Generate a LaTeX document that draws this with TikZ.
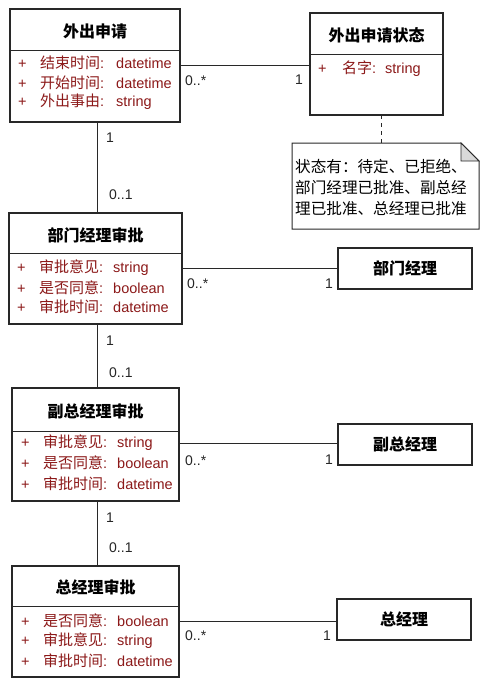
\documentclass[tikz,border=0pt]{standalone}
\usepackage{fontspec}
\setmainfont{Liberation Sans}
\newfontfamily\cjk{Noto Sans CJK SC}
\definecolor{attrred}{RGB}{140,25,25}
\definecolor{edge}{RGB}{40,40,40}
\tikzset{
  cls/.style={draw=edge, line width=1.2pt, fill=white, anchor=north west, inner sep=0pt, outer sep=0pt},
  ttl/.style={font=\cjk\bfseries\fontsize{16}{19}\selectfont, inner sep=0pt},
  attr/.style={font=\fontsize{14.5}{17}\selectfont, text=attrred, anchor=west, inner sep=0pt},
  mult/.style={font=\fontsize{14}{17}\selectfont, text=black!85, inner sep=0pt},
  assoc/.style={draw=edge, line width=0.8pt},
  sep/.style={draw=edge, line width=0.9pt},
}
\newcommand\zh[1]{{\cjk\fontsize{15}{17}\selectfont #1}}
\newcommand\attrline[3]{\makebox[22pt][l]{+}\makebox[#1][l]{\zh{#2}:}#3}
\begin{document}
\begin{tikzpicture}[x=1pt,y=-1pt]
\useasboundingbox[fill=white] (0,0) rectangle (493,685);

% ---------- 外出申请 ----------
\node[cls, minimum width=170pt, minimum height=113pt] (wc) at (10,9) {};
\draw[sep] (wc.west |- 0,50) -- (wc.east |- 0,50);
\node[ttl] (wct) at (95,31) {外出申请};
\node[attr] (wc1) at (18,63) {\attrline{76pt}{结束时间}{datetime}};
\node[attr] (wc2) at (18,83) {\attrline{76pt}{开始时间}{datetime}};
\node[attr] (wc3) at (18,102) {\attrline{76pt}{外出事由}{string}};

% ---------- 外出申请状态 ----------
\node[cls, minimum width=133pt, minimum height=102pt] (st) at (310,13) {};
\draw[sep] (st.west |- 0,54) -- (st.east |- 0,54);
\node[ttl] (stt) at (376.5,35) {外出申请状态};
\node[attr] (st1) at (318,69) {\makebox[24pt][l]{+}\makebox[43pt][l]{\zh{名字}:}string};

% ---------- note ----------
\node[inner sep=0pt, outer sep=0pt, minimum width=187pt, minimum height=86pt, anchor=north west] (note) at (292,143) {};
\draw[edge, line width=1pt, fill=white]
  (note.north west) -- ([xshift=-18pt]note.north east) -- ([yshift=-18pt]note.north east)
  -- (note.south east) -- (note.south west) -- cycle;
\draw[edge, line width=0.8pt, fill=black!15]
  ([xshift=-18pt]note.north east) -- ([xshift=-18pt,yshift=-18pt]note.north east) -- ([yshift=-18pt]note.north east) -- cycle;
\node[anchor=north west, inner sep=0pt, align=left, font=\cjk\fontsize{15.6}{21}\selectfont] (notet) at (295,159)
  {状态有：待定、已拒绝、\\部门经理已批准、副总经\\理已批准、总经理已批准};
\draw[edge, line width=0.9pt, dash pattern=on 4pt off 4pt] (381,0 |- st.south) -- (381,0 |- note.north);

% ---------- 部门经理审批 ----------
\node[cls, minimum width=173pt, minimum height=111pt] (bm) at (9,213) {};
\draw[sep] (bm.west |- 0,253) -- (bm.east |- 0,253);
\node[ttl] (bmt) at (95.5,235) {部门经理审批};
\node[attr] (bm1) at (17,268) {\attrline{74pt}{审批意见}{string}};
\node[attr] (bm2) at (17,288) {\attrline{74pt}{是否同意}{boolean}};
\node[attr] (bm3) at (17,307) {\attrline{74pt}{审批时间}{datetime}};

\node[cls, minimum width=134pt, minimum height=41pt] (bmj) at (338,248) {};
\node[ttl] (bmjt) at (bmj.center) {部门经理};

% ---------- 副总经理审批 ----------
\node[cls, minimum width=167pt, minimum height=113pt] (fz) at (12,388) {};
\draw[sep] (fz.west |- 0,431) -- (fz.east |- 0,431);
\node[ttl] (fzt) at (95.5,411) {副总经理审批};
\node[attr] (fz1) at (21,443) {\attrline{74pt}{审批意见}{string}};
\node[attr] (fz2) at (21,463) {\attrline{74pt}{是否同意}{boolean}};
\node[attr] (fz3) at (21,484) {\attrline{74pt}{审批时间}{datetime}};

\node[cls, minimum width=134pt, minimum height=41pt] (fzj) at (338,424) {};
\node[ttl] (fzjt) at (fzj.center) {副总经理};

% ---------- 总经理审批 ----------
\node[cls, minimum width=167pt, minimum height=111pt] (zj) at (12,566) {};
\draw[sep] (zj.west |- 0,606) -- (zj.east |- 0,606);
\node[ttl] (zjt) at (95.5,587) {总经理审批};
\node[attr] (zj1) at (21,621) {\attrline{74pt}{是否同意}{boolean}};
\node[attr] (zj2) at (21,641) {\attrline{74pt}{审批意见}{string}};
\node[attr] (zj3) at (21,661) {\attrline{74pt}{审批时间}{datetime}};

\node[cls, minimum width=134pt, minimum height=41pt] (zjj) at (337,599) {};
\node[ttl] (zjjt) at (zjj.center) {总经理};

% ---------- associations ----------
\draw[assoc] (wc.east |- 0,65) -- (st.west |- 0,65);
\node[mult, anchor=west] (m1a) at (185,81) {0..*};
\node[mult] (m1b) at (299,80) {1};

\draw[assoc] (97,0 |- wc.south) -- (97,0 |- bm.north);
\node[mult] (m2a) at (110,138) {1};
\node[mult, anchor=west] (m2b) at (109,195) {0..1};

\draw[assoc] (bm.east |- 0,268) -- (bmj.west |- 0,268);
\node[mult, anchor=west] (m3a) at (187,284) {0..*};
\node[mult] (m3b) at (329,284) {1};

\draw[assoc] (97,0 |- bm.south) -- (97,0 |- fz.north);
\node[mult] (m4a) at (110,341) {1};
\node[mult, anchor=west] (m4b) at (109,373) {0..1};

\draw[assoc] (fz.east |- 0,443) -- (fzj.west |- 0,443);
\node[mult, anchor=west] (m5a) at (185,461) {0..*};
\node[mult] (m5b) at (329,460) {1};

\draw[assoc] (97,0 |- fz.south) -- (97,0 |- zj.north);
\node[mult] (m6a) at (110,518) {1};
\node[mult, anchor=west] (m6b) at (109,548) {0..1};

\draw[assoc] (zj.east |- 0,621) -- (zjj.west |- 0,621);
\node[mult, anchor=west] (m7a) at (185,636) {0..*};
\node[mult] (m7b) at (327,636) {1};
\end{tikzpicture}
\end{document}
